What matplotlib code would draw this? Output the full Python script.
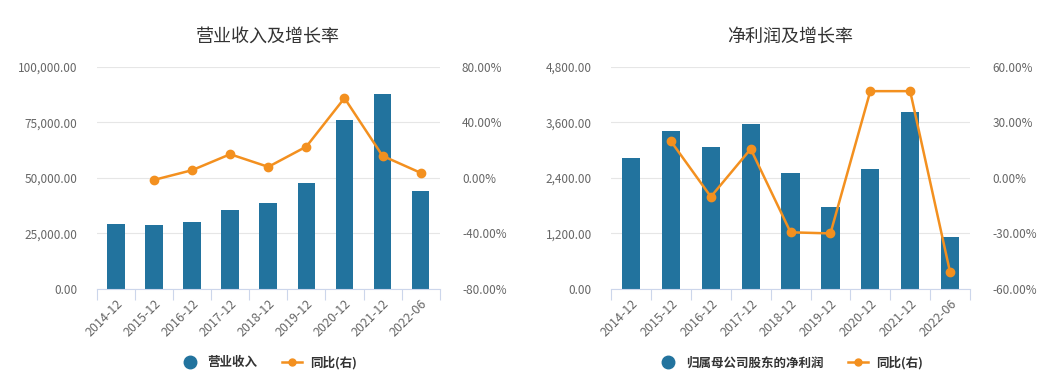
import matplotlib
matplotlib.use("Agg")
import matplotlib.pyplot as plt
from matplotlib.ticker import FuncFormatter, FixedLocator
from matplotlib.lines import Line2D

plt.rcParams['font.family'] = ['Noto Sans CJK SC', 'DejaVu Sans']

# data
periods = ["2014-12", "2015-12", "2016-12", "2017-12", "2018-12",
           "2019-12", "2020-12", "2021-12", "2022-06"]
revenue = [29150, 28700, 30350, 35700, 38700, 47800, 75800, 87900, 44100]
revenue_yoy = [None, -1.5, 5.5, 17.0, 7.9, 22.5, 57.4, 15.8, 3.6]
profit = [2834, 3415, 3057, 3559, 2497, 1765, 2583, 3817, 1119]
profit_yoy = [None, 19.7, -10.2, 15.6, -29.4, -30.0, 46.8, 46.8, -50.8]

BAR = "#22739e"
LINE = "#f3901f"
GRID = "#e6e6e6"
TXT = "#666666"
AXIS = "#ccd6eb"

fig = plt.figure(figsize=(10.52, 3.9), dpi=100)


def draw(rect, title, bars, yoy, lmax, rmin, rmax, bar_label):
    ax = fig.add_axes(rect)
    x = list(range(len(periods)))
    ax.bar(x, bars, width=0.46, color=BAR, zorder=2)
    ax.set_xlim(-0.5, len(periods) - 0.5)
    ax.set_ylim(0, lmax)
    ax.set_yticks([lmax * i / 4 for i in range(5)])
    ax.yaxis.set_major_formatter(FuncFormatter(lambda v, p: f"{v:,.2f}"))
    ax.grid(axis="y", color=GRID, linewidth=0.8, zorder=0)
    ax.set_axisbelow(True)
    for s in ["top", "right", "left"]:
        ax.spines[s].set_visible(False)
    ax.spines["bottom"].set_color(AXIS)
    ax.set_xticks(x)
    ax.set_xticklabels(periods, rotation=45, ha="right", rotation_mode="anchor",
                       fontsize=9, color=TXT)
    ax.tick_params(axis="x", length=0, pad=6)
    ax.xaxis.set_minor_locator(FixedLocator([i - 0.5 for i in range(len(periods) + 1)]))
    ax.tick_params(axis="x", which="minor", length=8, color=AXIS, width=0.8)
    ax.tick_params(axis="y", length=0, labelsize=8.5, labelcolor=TXT, pad=14)
    ax.set_title(title, fontsize=13, color="#333333", pad=18)

    ax2 = ax.twinx()
    xs = [i for i, v in enumerate(yoy) if v is not None]
    ys = [v for v in yoy if v is not None]
    ax2.plot(xs, ys, color=LINE, linewidth=1.8, marker="o", markersize=6, zorder=3)
    ax2.set_ylim(rmin, rmax)
    ax2.set_yticks([rmin + (rmax - rmin) * i / 4 for i in range(5)])
    ax2.yaxis.set_major_formatter(FuncFormatter(lambda v, p: f"{v:.2f}%"))
    ax2.tick_params(axis="y", length=0, labelsize=8.5, labelcolor=TXT, pad=16)
    for s in ax2.spines.values():
        s.set_visible(False)

    handles = [
        Line2D([], [], linestyle="none", marker="o", markersize=9, color=BAR),
        Line2D([], [], color=LINE, marker="o", markersize=5, linewidth=1.8),
    ]
    ax.legend(handles, [bar_label, "同比(右)"], loc="upper center",
              bbox_to_anchor=(0.5, -0.25), ncol=2, frameon=False,
              prop={"size": 9, "weight": "bold"},
              handlelength=1.6, columnspacing=2.0, handletextpad=0.6,
              labelcolor="#333333")


draw([0.092, 0.259, 0.326, 0.57], "营业收入及增长率", revenue, revenue_yoy,
     100000, -80, 80, "营业收入")
draw([0.581, 0.259, 0.341, 0.57], "净利润及增长率", profit, profit_yoy,
     4800, -60, 60, "归属母公司股东的净利润")

fig.savefig("out.png", dpi=100, facecolor="white")
